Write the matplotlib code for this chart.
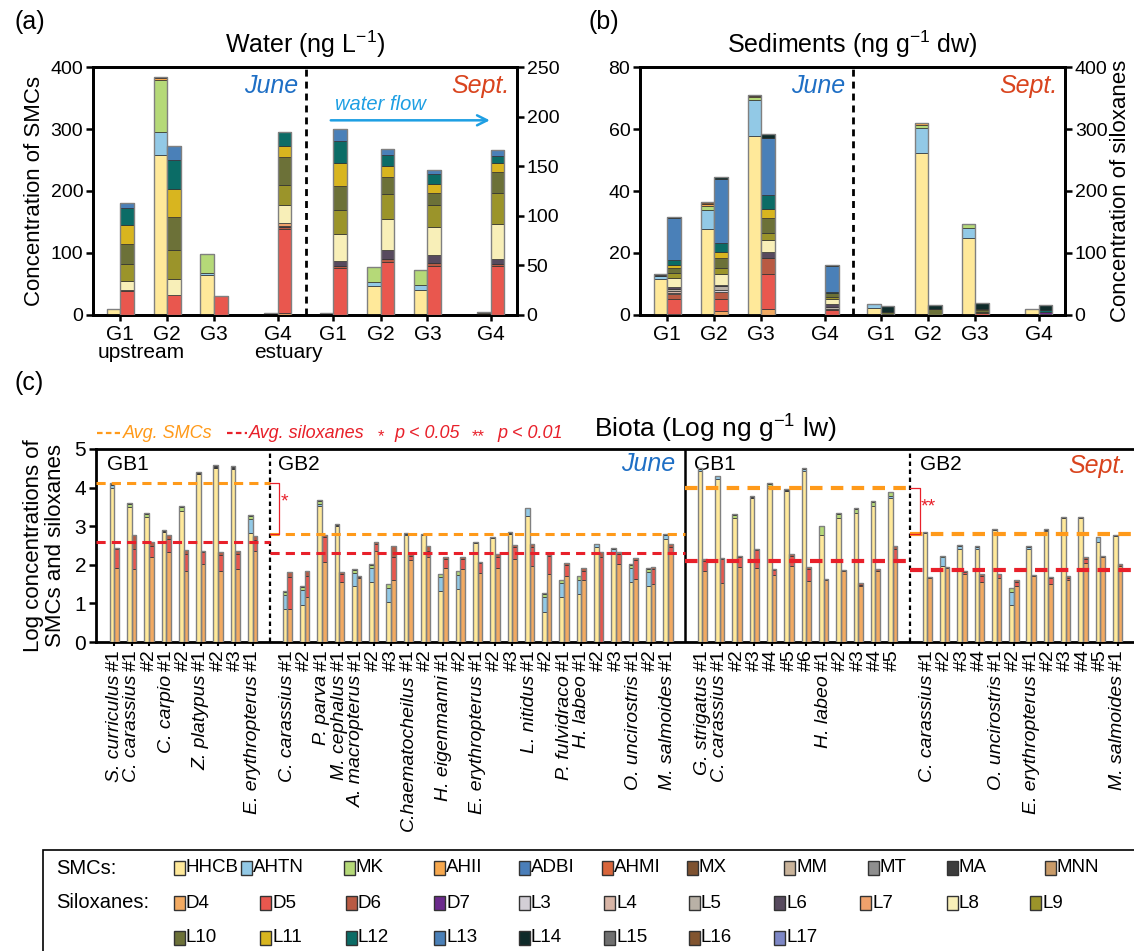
import matplotlib
matplotlib.use("Agg")
import matplotlib.pyplot as plt
from matplotlib.patches import Rectangle
from matplotlib.lines import Line2D
from matplotlib.transforms import blended_transform_factory
import numpy as np

plt.rcParams['font.family'] = ['Liberation Sans', 'DejaVu Sans']
plt.rcParams['mathtext.fontset'] = 'custom'
plt.rcParams['mathtext.rm'] = 'Liberation Sans'
plt.rcParams['axes.linewidth'] = 1.8

W, H = 1134, 951

# ---------------- colours ----------------
smc_colors = {'HHCB': '#FFE99A', 'AHTN': '#92C9E6', 'MK': '#B5D978', 'AHII': '#F7A84E',
              'ADBI': '#4A7EB9', 'AHMI': '#D8653B', 'MX': '#7E5230', 'MM': '#C9B39A',
              'MT': '#8E8E8E', 'MA': '#3C3C3C', 'MNN': '#C99B68'}
silox_colors = {'D4': '#F2AA62', 'D5': '#E9574E', 'D6': '#B95A43', 'D7': '#6B2A8C',
                'L3': '#D3CFD6', 'L4': '#D8B5A6', 'L5': '#B9B1A6', 'L6': '#574A5E',
                'L7': '#F0A26C', 'L8': '#F8EFB8', 'L9': '#9B942A', 'L10': '#6C7138',
                'L11': '#D8B51F', 'L12': '#0B6C66', 'L13': '#4A80B8', 'L14': '#0F2B2A',
                'L15': '#6F6F6F', 'L16': '#825530', 'L17': '#7D87C6'}
smc_names = list(smc_colors)
silox_names = list(silox_colors)

# ---------------- data ----------------
# sites: June G1-G4, Sept G1-G4
site_labels = ['G1', 'G2', 'G3', 'G4', 'G1', 'G2', 'G3', 'G4']
site_x = np.array([0, 1, 2, 3.36, 4.54, 5.55, 6.55, 7.9])

# water, ng/L
water_smc = {
    'HHCB': [9, 258, 64, 0, 0, 47, 41, 3],
    'AHTN': [0, 37, 4, 0, 0, 6, 8, 0],
    'MK':   [0, 84, 31, 0, 0, 24, 24, 0],
    'AHII': [0, 3, 0, 0, 0, 0, 0, 0],
    'MX':   [0, 1.5, 0, 0, 0, 0, 0, 0],
    'MM':   [0, 0, 0, 0, 0, 0, 0, 2.2],
    'MA':   [0.8, 0, 0, 3.2, 4, 0, 0, 0],
}
water_silox = {
    'D4':  [0, 0, 0, 2, 0, 0, 0, 0],
    'D5':  [24, 20, 19, 85, 47.5, 53, 49, 49],
    'D6':  [1, 0, 0, 1.5, 1.5, 3.5, 3.5, 2.5],
    'L6':  [0, 0, 0, 1.7, 5, 9.5, 7.5, 5],
    'L7':  [0, 0, 0, 3, 0, 0, 0, 0],
    'L8':  [9, 16, 0, 18, 27.5, 31, 29, 35.5],
    'L9':  [17.5, 30, 0, 20, 24, 25, 22, 31],
    'L10': [20, 33, 0, 28, 25, 17, 11.5, 21],
    'L11': [19, 28, 0, 11.5, 22.5, 11.5, 10, 9],
    'L12': [17, 29, 0, 13.5, 22.5, 10.5, 9.5, 7.5],
    'L13': [5, 14, 0, 0, 12.5, 6, 4, 6],
}

# sediments, ng/g dw
sed_smc = {
    'HHCB': [11.5, 27.8, 57.9, 0, 2.4, 52.1, 24.7, 1.8],
    'AHTN': [1.0, 6.2, 11.4, 0, 1.0, 8.2, 3.4, 0],
    'MK':   [0, 1.3, 0.9, 0, 0, 0.9, 1.1, 0],
    'AHII': [0, 0.5, 0.4, 0, 0, 0.7, 0.3, 0],
    'MX':   [0, 0.5, 0.3, 0, 0, 0, 0, 0],
    'MA':   [0.6, 0, 0, 0, 0, 0, 0, 0],
}
sed_silox = {
    'D4':  [2, 6.4, 9, 0, 0, 0, 0, 0],
    'D5':  [23, 20, 56.5, 8, 1.5, 0, 2.5, 2],
    'D6':  [9, 11, 27, 2, 0, 0, 1.5, 0],
    'D7':  [0, 0, 0, 0, 0, 0, 0, 3],
    'L3':  [2, 3.5, 0, 0, 0, 0, 0, 0],
    'L4':  [2, 0, 0, 0, 0, 0, 0, 0],
    'L5':  [4, 5.5, 0, 3.5, 0, 0, 0, 0],
    'L6':  [3.7, 2.5, 9.7, 3.5, 0, 0, 0, 0],
    'L8':  [14.5, 17, 18, 9.5, 0, 0, 0, 0],
    'L9':  [7, 9.5, 12.5, 2.5, 0, 0, 1.5, 0],
    'L10': [9, 16, 23, 6.5, 3, 10, 2.5, 0],
    'L11': [4.5, 9.5, 16, 0, 0, 0, 1.5, 0],
    'L12': [7.5, 15.5, 21.5, 2, 0, 0, 0, 2.5],
    'L13': [68.5, 103.5, 92.5, 41, 0, 0, 0, 0],
    'L14': [1.5, 2, 6.5, 2, 10, 6, 10.5, 8.5],
}

# biota, log ng/g lw (stacked segment heights), groups: June GB1, June GB2, Sept GB1, Sept GB2
group_sizes = [9, 23, 12, 12]
species_names = ['S. curriculus', 'C. carassius', 'C. carpio', 'Z. platypus', 'E. erythropterus',
                 'C. carassius', 'P. parva', 'M. cephalus', 'A. macropterus', 'C.haematocheilus',
                 'H. eigenmanni', 'E. erythropterus', 'L. nitidus', 'P. fulvidraco', 'H. labeo',
                 'O. uncirostris', 'M. salmoides',
                 'G. strigatus', 'C. carassius', 'H. labeo',
                 'C. carassius', 'O. uncirostris', 'E. erythropterus', 'M. salmoides']
species_counts = [1, 2, 2, 3, 1,
                  2, 1, 1, 3, 2, 2, 3, 2, 1, 3, 2, 1,
                  1, 6, 5,
                  4, 2, 5, 1]

biota_hhcb = [4.00, 3.51, 3.23, 2.86, 3.40, 4.36, 4.51, 4.48, 2.83,
              0.85, 0.97, 3.52, 3.01, 1.44, 1.55, 1.04, 2.78, 2.78, 1.31, 1.37, 2.57, 2.69, 2.80,
              3.27, 0.79, 1.16, 1.25, 2.47, 2.33, 1.55, 1.44, 2.68,
              4.42, 4.22, 3.21, 3.73, 3.98, 3.91, 4.42, 2.78, 3.21, 3.35, 3.53, 3.72,
              2.82, 1.98, 2.41, 2.41, 2.90, 0.95, 2.41, 2.88, 3.20, 3.20, 2.60, 2.75]
biota_ahtn = [0.07, 0, 0, 0, 0, 0, 0, 0, 0.36,
              0.36, 0.37, 0.05, 0, 0.35, 0.37, 0.37, 0.02, 0, 0.37, 0.37, 0, 0, 0,
              0.19, 0.37, 0.37, 0.36, 0.06, 0.08, 0.36, 0.37, 0.08,
              0.05, 0.07, 0, 0, 0.05, 0, 0.07, 0, 0, 0, 0, 0.05,
              0, 0.22, 0.07, 0.06, 0, 0.34, 0.06, 0.03, 0, 0, 0.11, 0]
biota_mk = [0, 0.07, 0.08, 0, 0.09, 0, 0, 0, 0.08,
            0.09, 0.09, 0.08, 0, 0.08, 0.08, 0.09, 0, 0, 0.08, 0.09, 0, 0, 0,
            0, 0.09, 0.07, 0.10, 0, 0, 0.09, 0.09, 0,
            0, 0, 0.09, 0, 0.06, 0, 0, 0.22, 0.10, 0.09, 0.09, 0.11,
            0, 0.04, 0, 0, 0, 0.12, 0, 0, 0, 0, 0, 0]
biota_ma = [0.04, 0.03, 0.02, 0.03, 0.03, 0.04, 0.08, 0.07, 0.01,
            0.01, 0.01, 0.02, 0.04, 0.01, 0.01, 0.01, 0.02, 0.02, 0.01, 0.01, 0.02, 0.02, 0.04,
            0, 0.01, 0.01, 0.01, 0.02, 0.03, 0.01, 0.01, 0.03,
            0.03, 0.02, 0.02, 0.04, 0.02, 0.06, 0.02, 0, 0.02, 0.02, 0.02, 0,
            0.04, 0, 0.03, 0.02, 0.03, 0, 0.02, 0.02, 0.03, 0.03, 0.02, 0.03]
biota_d4 = [1.91, 1.90, 2.20, 2.33, 1.83, 2.03, 1.85, 1.88, 2.35,
            0.85, 1.17, 2.08, 1.56, 1.66, 2.37, 1.60, 2.12, 2.21, 1.91, 1.89, 1.79, 1.91, 2.16,
            1.96, 1.77, 1.72, 1.61, 0.0, 2.01, 1.62, 1.49, 2.29,
            1.85, 1.53, 1.94, 1.91, 1.74, 1.98, 1.58, 1.60, 1.83, 1.45, 1.85, 2.14,
            1.65, 1.92, 1.75, 1.56, 1.67, 1.45, 1.70, 1.51, 1.61, 2.04, 2.19, 1.96]
biota_d5 = [0.49, 0.52, 0.28, 0.35, 0.46, 0.29, 0.40, 0.40, 0.29,
            0.83, 0.53, 0.63, 0.21, 0.02, 0.17, 0.60, 0.12, 0.15, 0.24, 0.25, 0.26, 0.30, 0.29,
            0.50, 0.45, 0.28, 0.23, 2.21, 0.26, 0.50, 0.40, 0.18,
            0.26, 0.61, 0.25, 0.47, 0.13, 0.25, 0.32, 0, 0, 0.03, 0, 0.27,
            0, 0, 0.07, 0.15, 0.08, 0.11, 0, 0.14, 0.06, 0.12, 0, 0]
biota_d6 = [0.04, 0.36, 0.12, 0.08, 0.10, 0.05, 0.07, 0.07, 0.10,
            0.13, 0.13, 0.07, 0.05, 0.03, 0.06, 0.30, 0.03, 0.14, 0.04, 0.05, 0.03, 0.08, 0.06,
            0.09, 0.07, 0.05, 0.07, 0.12, 0.07, 0.06, 0.06, 0.06,
            0.03, 0.03, 0.03, 0.04, 0.03, 0.04, 0.04, 0.02, 0.03, 0.06, 0.03, 0.07,
            0.03, 0.03, 0.03, 0.04, 0.02, 0.05, 0.04, 0.03, 0.03, 0.03, 0.03, 0.05]

avg_smc = [4.11, 2.80, 3.98, 2.79]
avg_silox = [2.59, 2.30, 2.09, 1.875]

JUNE_C = '#1F6FC5'
SEPT_C = '#D9441E'
ORANGE = '#FF9A1A'
RED = '#E8202A'


def fx(px):
    return px / W


def fy(py):
    return 1 - py / H


def draw_stack(ax, xs, series, order, colors, width):
    bottom = np.zeros(len(xs))
    for name in order:
        if name not in series:
            continue
        v = np.asarray(series[name], dtype=float)
        m = v > 0
        if m.any():
            ax.bar(xs[m], v[m], width=width, bottom=bottom[m], color=colors[name],
                   edgecolor='#2e2e2e', linewidth=0.5, zorder=3)
        bottom = bottom + v
    m = bottom > 0
    ax.bar(xs[m], bottom[m], width=width, fill=False, edgecolor='#808080',
           linewidth=1.0, zorder=4)


def site_panel(rect, smc, silox, ymax_l, ymax_r, step_l, step_r, title, right_label=None):
    ax = fig.add_axes(rect)
    ax2 = ax.twinx()
    bw = 0.29
    draw_stack(ax, site_x - bw / 2, smc, smc_names, smc_colors, bw)
    draw_stack(ax2, site_x + bw / 2, silox, silox_names, silox_colors, bw)
    ax.set_xlim(-0.58, 8.46)
    ax.set_ylim(0, ymax_l)
    ax2.set_ylim(0, ymax_r)
    ax.set_yticks(np.arange(0, ymax_l + 1, step_l))
    ax2.set_yticks(np.arange(0, ymax_r + 1, step_r))
    ax.set_xticks(site_x)
    ax.set_xticklabels(site_labels)
    for a in (ax, ax2):
        for s in a.spines.values():
            s.set_linewidth(2.0)
    ax.tick_params(axis='y', direction='out', length=5, width=1.8, labelsize=14, pad=2)
    ax2.tick_params(axis='y', direction='out', length=5, width=1.8, labelsize=14, pad=2)
    ax.tick_params(axis='x', direction='out', length=4, width=1.8, labelsize=15, pad=3)
    ax.axvline(3.96, color='black', ls=(0, (2.5, 1.8)), lw=2, zorder=5)
    ax.set_title(title, fontsize=18, pad=10)
    if right_label:
        ax2.set_ylabel(right_label, fontsize=16, labelpad=2)
    return ax, ax2


fig = plt.figure(figsize=(W / 100, H / 100), dpi=100)

# ---------------- (a) water ----------------
axA, axA2 = site_panel([fx(93), fy(315), fx(517) - fx(93), (315 - 67) / H],
                       water_smc, water_silox, 400, 250, 100, 50,
                       'Water (ng L$^{\\mathregular{-1}}$)')
axA.set_ylabel('Concentration of SMCs', fontsize=16, labelpad=4)
axA.text(3.80, 369, 'June', color=JUNE_C, style='italic', fontsize=18, ha='right', va='center')
axA.text(8.30, 369, 'Sept.', color=SEPT_C, style='italic', fontsize=18, ha='right', va='center')
axA.text(4.58, 339, 'water flow', color='#1E9FE3', style='italic', fontsize=14.5, ha='left', va='center')
axA.annotate('', xy=(7.94, 314), xytext=(4.43, 314),
             arrowprops=dict(arrowstyle='->', color='#1E9FE3', lw=1.8, mutation_scale=18))
trA = blended_transform_factory(axA.transData, axA.transAxes)
axA.text(0.45, -0.15, 'upstream', transform=trA, fontsize=15, ha='center', va='center')
axA.text(3.59, -0.15, 'estuary', transform=trA, fontsize=15, ha='center', va='center')

# ---------------- (b) sediments ----------------
axB, axB2 = site_panel([fx(640), fy(315), fx(1065) - fx(640), (315 - 67) / H],
                       sed_smc, sed_silox, 80, 400, 20, 100,
                       'Sediments (ng g$^{\\mathregular{-1}}$ dw)',
                       right_label='Concentration of siloxanes')
axB.text(3.78, 73.8, 'June', color=JUNE_C, style='italic', fontsize=18, ha='right', va='center')
axB.text(8.31, 73.8, 'Sept.', color=SEPT_C, style='italic', fontsize=18, ha='right', va='center')

# ---------------- (c) biota ----------------
axC = fig.add_axes([fx(96), fy(642), fx(1150) - fx(96), (642 - 449) / H])
starts = [0, 10, 34, 47]
slots = np.concatenate([np.arange(s, s + n) for s, n in zip(starts, group_sizes)]).astype(float)
cw = 0.27
smc_c = {'HHCB': biota_hhcb, 'AHTN': biota_ahtn, 'MK': biota_mk, 'MA': biota_ma}
silox_c = {'D4': biota_d4, 'D5': biota_d5, 'D6': biota_d6}
draw_stack(axC, slots - cw / 2, smc_c, smc_names, smc_colors, cw)
draw_stack(axC, slots + cw / 2, silox_c, silox_names, silox_colors, cw)
axC.set_xlim(-1.06, 59.87)
axC.set_ylim(0, 5)
axC.set_yticks(range(6))
axC.spines['right'].set_visible(False)
for s in ('left', 'bottom', 'top'):
    axC.spines[s].set_linewidth(2.0)
axC.tick_params(axis='y', direction='out', length=5, width=1.8, labelsize=15, pad=2)
axC.tick_params(axis='x', direction='out', length=3, width=1.5, labelsize=14, pad=2,
                labelrotation=90)

tick_labels = []
first_idx = []
for name, n in zip(species_names, species_counts):
    first_idx.append(len(tick_labels))
    tick_labels += ['#%d' % k for k in range(1, n + 1)]
axC.set_xticks(slots)
axC.set_xticklabels(tick_labels)
trC = blended_transform_factory(axC.transData, axC.transAxes)
for name, i in zip(species_names, first_idx):
    axC.annotate(name, xy=(slots[i], 0), xycoords=trC, xytext=(0, -33),
                 textcoords='offset pixels', rotation=90, ha='center', va='top',
                 fontsize=14, style='italic')

axC.axvline(9, color='black', ls=(0, (2, 1.6)), lw=1.6, zorder=5)
axC.axvline(46, color='black', ls=(0, (2, 1.6)), lw=1.6, zorder=5)
axC.axvline(33, color='black', lw=1.8, zorder=5)

group_edges = [(-1.06, 9), (9, 33), (33, 46), (46, 59.87)]
for (x0, x1), a_s, a_x, lw in zip(group_edges, avg_smc, avg_silox, [2.2, 2.2, 3, 3]):
    axC.plot([x0, x1], [a_s, a_s], color=ORANGE, ls=(0, (3, 2)), lw=lw, zorder=6)
    axC.plot([x0, x1], [a_x, a_x], color=RED, ls=(0, (3, 2)), lw=lw, zorder=6)

# significance brackets
axC.plot([9, 9.52, 9.52, 9], [avg_smc[0], avg_smc[0], avg_smc[1], avg_smc[1]], color=RED, lw=0.9, zorder=6)
axC.text(9.85, 3.62, '*', color=RED, fontsize=14, ha='center', va='center')
axC.plot([46, 46.6, 46.6, 46], [avg_smc[2], avg_smc[2], avg_smc[3], avg_smc[3]], color=RED, lw=0.9, zorder=6)
axC.text(47.05, 3.5, '**', color=RED, fontsize=14, ha='center', va='center')

for x, t in [(-0.45, 'GB1'), (9.45, 'GB2'), (33.5, 'GB1'), (46.6, 'GB2')]:
    axC.text(x, 4.6, t, fontsize=15, ha='left', va='center')
axC.text(32.4, 4.6, 'June', color=JUNE_C, style='italic', fontsize=18, ha='right', va='center')
axC.text(58.5, 4.55, 'Sept.', color=SEPT_C, style='italic', fontsize=18, ha='right', va='center')
axC.set_ylabel('Log concentrations of\nSMCs and siloxanes', fontsize=16, labelpad=6,
               linespacing=1.05)

fig.text(fx(715), fy(428), 'Biota (Log ng g$^{\\mathregular{-1}}$ lw)', fontsize=19,
         ha='center', va='center')

# average / significance key above panel (c)
fig.add_artist(Line2D([fx(97), fx(120)], [fy(433), fy(433)], color=ORANGE, lw=1.6, ls=(0, (2.5, 1.5))))
fig.text(fx(123), fy(433), 'Avg. SMCs', color=ORANGE, style='italic', fontsize=13, va='center')
fig.add_artist(Line2D([fx(227), fx(247)], [fy(433), fy(433)], color=RED, lw=1.6, ls=(0, (2.5, 1.5))))
fig.text(fx(249), fy(433), 'Avg. siloxanes', color=RED, style='italic', fontsize=13, va='center')
fig.text(fx(378), fy(437), '*', color=RED, fontsize=12, va='center')
fig.text(fx(394), fy(433), 'p < 0.05', color=RED, style='italic', fontsize=13, va='center')
fig.text(fx(472), fy(437), '**', color=RED, fontsize=12, va='center')
fig.text(fx(497), fy(433), 'p < 0.01', color=RED, style='italic', fontsize=13, va='center')

# panel letters
fig.text(fx(14), fy(22), '(a)', fontsize=18, va='center')
fig.text(fx(588), fy(22), '(b)', fontsize=18, va='center')
fig.text(fx(14), fy(383), '(c)', fontsize=18, va='center')

# ---------------- legend ----------------
fig.add_artist(Rectangle((fx(43), fy(960)), fx(1200) - fx(43), (960 - 850) / H,
                         transform=fig.transFigure, fill=False, edgecolor='black', lw=1.2))
row1_x = [173.5, 240.8, 343.5, 434, 519, 602, 687, 784.5, 867.7, 947, 1045]
col_x = [173.5, 260, 345.6, 434, 519, 604, 689, 774, 860, 947, 1030]
rows = [(868, smc_names, row1_x), (903, silox_names[:11], col_x), (938, silox_names[11:], col_x)]
fig.text(fx(56), fy(868), 'SMCs:', fontsize=14.5, va='center')
fig.text(fx(56), fy(903), 'Siloxanes:', fontsize=14.5, va='center')
all_colors = dict(smc_colors, **silox_colors)
for y, names, xs in rows:
    for x, name in zip(xs, names):
        fig.add_artist(Rectangle((fx(x), fy(y + 7)), 11 / W, 14 / H, transform=fig.transFigure,
                                 facecolor=all_colors[name], edgecolor='#333333', lw=1.0))
        fig.text(fx(x + 12), fy(y), name, fontsize=13.5, va='center')

fig.savefig('out.png', dpi=100)
